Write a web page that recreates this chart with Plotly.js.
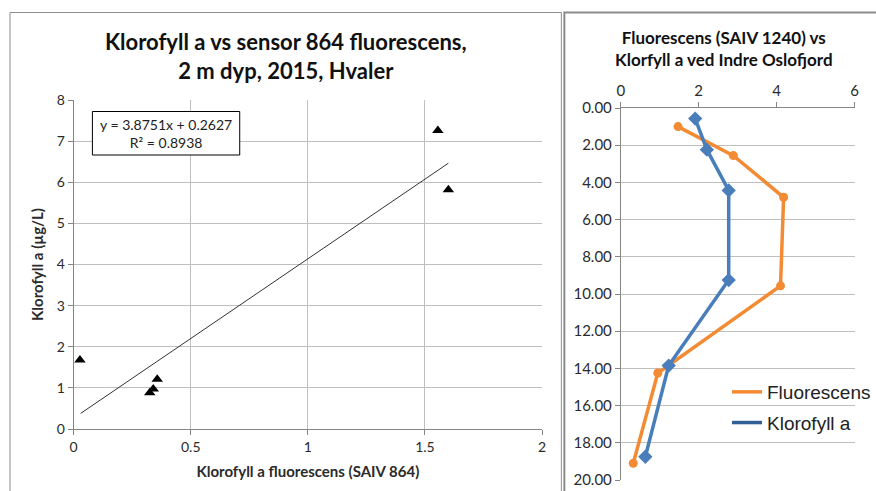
<!DOCTYPE html>
<html>
<head>
<meta charset="utf-8">
<script src="https://cdn.plot.ly/plotly-3.0.1.min.js"></script>
<style>html,body{margin:0;padding:0;background:#fff;}#chart{width:876px;height:491px;}</style>
</head>
<body>
<div id="chart"></div>
<script>
// ---- Data ----
const scatterX = [0.027, 0.325, 0.34, 0.357, 1.555, 1.6];
const scatterY = [1.68, 0.88, 0.97, 1.21, 7.26, 5.82];
const trendSlope = 3.8751;
const trendIntercept = 0.2627;
const trendR2 = 0.8938;
const trendX = [0.03, 1.6];

const fluorX = [1.47, 2.89, 4.18, 4.10, 0.95, 0.32];
const fluorDepth = [1.0, 2.56, 4.8, 9.56, 14.25, 19.1];
const klorX = [1.91, 2.21, 2.77, 2.77, 1.23, 0.63];
const klorDepth = [0.57, 2.24, 4.43, 9.25, 13.85, 18.75];

const leftXTicks = [0, 0.5, 1, 1.5, 2];
const leftYTicks = [0, 1, 2, 3, 4, 5, 6, 7, 8];
const rightXTicks = [0, 2, 4, 6];
const rightYTicks = [0, 2, 4, 6, 8, 10, 12, 14, 16, 18, 20];

// ---- Layout helpers (pixel -> paper) ----
const W = 876, H = 491;
const px = x => x / W;
const py = y => 1 - y / H;

const trendY = trendX.map(x => trendSlope * x + trendIntercept);

const ORANGE = '#F38B34';
const BLUE = '#4A7EBB';
const GRID = '#BFBFBF';
const AXIS = '#868686';
const TXT = '#2b2b2b';
const FONT = 'Lato, "Open Sans", sans-serif';

const traces = [
  {x: trendX, y: trendY, mode: 'lines', line: {color: '#333', width: 1}, xaxis: 'x', yaxis: 'y', showlegend: false, hoverinfo: 'skip'},
  {x: scatterX, y: scatterY, mode: 'markers', marker: {symbol: 'triangle-up', size: 10, color: '#000'}, xaxis: 'x', yaxis: 'y', showlegend: false},
  {x: fluorX, y: fluorDepth, mode: 'lines+markers', line: {color: ORANGE, width: 3.5}, marker: {symbol: 'circle', size: 9, color: ORANGE}, xaxis: 'x2', yaxis: 'y2', showlegend: false, name: 'Fluorescens'},
  {x: klorX, y: klorDepth, mode: 'lines+markers', line: {color: BLUE, width: 3.5}, marker: {symbol: 'diamond', size: 11, color: BLUE}, xaxis: 'x2', yaxis: 'y2', showlegend: false, name: 'Klorofyll a'},
  // legend entries (lines only, like the reference legend)
  {x: [null], y: [null], mode: 'lines', line: {color: ORANGE, width: 3.5}, xaxis: 'x2', yaxis: 'y2', name: 'Fluorescens', legendgroup: 'a'},
  {x: [null], y: [null], mode: 'lines', line: {color: '#2F5F95', width: 3.5}, xaxis: 'x2', yaxis: 'y2', name: 'Klorofyll a', legendgroup: 'b'}
];

const layout = {
  width: W, height: H,
  margin: {l: 0, r: 0, t: 0, b: 0},
  paper_bgcolor: '#fff', plot_bgcolor: 'rgba(0,0,0,0)',
  font: {family: FONT, size: 14, color: TXT},
  showlegend: true,
  legend: {x: px(728), y: py(373), xanchor: 'left', yanchor: 'top', bgcolor: 'rgba(0,0,0,0)',
           font: {family: '"Liberation Sans", Arial, sans-serif', size: 19, color: '#222'},
           traceorder: 'grouped', tracegroupgap: 3},
  xaxis: {domain: [px(73.7), px(542.7)], range: [0, 2], tickvals: leftXTicks, ticktext: leftXTicks.map(String),
          showgrid: true, gridcolor: GRID, gridwidth: 1, zeroline: false, showline: true, linecolor: AXIS, mirror: false,
          ticks: 'outside', ticklen: 5, tickcolor: AXIS, tickfont: {size: 14, color: TXT}, anchor: 'y',
          title: {text: '<b>Klorofyll a fluorescens (SAIV 864)</b>', font: {size: 15, color: TXT}, standoff: 12}},
  yaxis: {domain: [py(429), py(100)], range: [0, 8], tickvals: leftYTicks,
          showgrid: true, gridcolor: GRID, gridwidth: 1, zeroline: false, showline: true, linecolor: AXIS,
          ticks: 'outside', ticklen: 5, tickcolor: AXIS, tickfont: {size: 14, color: TXT}, anchor: 'x',
          title: {text: '<b>Klorofyll a (µg/L)</b>', font: {size: 15, color: TXT}, standoff: 9}},
  xaxis2: {domain: [px(621.5), px(855.5)], range: [0, 6], tickvals: rightXTicks, side: 'top',
           showgrid: false, zeroline: false, showline: true, linecolor: AXIS,
           ticks: 'outside', ticklen: 5, tickcolor: AXIS, tickfont: {size: 15, color: TXT}, anchor: 'y2'},
  yaxis2: {domain: [py(480), py(108)], range: [20, 0], tickvals: rightYTicks, tickformat: '.2f',
           showgrid: true, gridcolor: GRID, gridwidth: 1, zeroline: false, showline: true, linecolor: AXIS,
           ticks: 'outside', ticklen: 5, tickcolor: AXIS, tickfont: {size: 15, color: TXT}, anchor: 'x2'},
  shapes: [
    // left panel border
    {type: 'rect', xref: 'paper', yref: 'paper', x0: px(10), x1: px(562), y0: py(500), y1: py(12.5), line: {color: '#8C8C8C', width: 1}},
    // right panel border
    {type: 'rect', xref: 'paper', yref: 'paper', x0: px(565), x1: px(880), y0: py(500), y1: py(12.5), line: {color: '#8C8C8C', width: 2}},
    // equation box
    {type: 'rect', xref: 'paper', yref: 'paper', x0: px(92.5), x1: px(240), y0: py(155), y1: py(111.5), fillcolor: '#fff', line: {color: '#000', width: 1}, layer: 'above'}
  ],
  annotations: [
    {text: '<b>Klorofyll a vs sensor 864 fluorescens,</b><br><b>2 m dyp, 2015, Hvaler</b>', xref: 'paper', yref: 'paper',
     x: px(286), y: py(56), xanchor: 'center', yanchor: 'middle', showarrow: false, font: {size: 22, color: '#111'}},
    {text: '<b>Fluorescens (SAIV 1240) vs</b><br><b>Klorfyll a ved Indre Oslofjord</b>', xref: 'paper', yref: 'paper',
     x: px(725), y: py(48), xanchor: 'center', yanchor: 'middle', showarrow: false, font: {size: 17, color: '#111'}},
    {text: 'y = ' + trendSlope.toFixed(4) + 'x + ' + trendIntercept.toFixed(4) + '<br>R² = ' + trendR2.toFixed(4), xref: 'paper', yref: 'paper',
     x: px(166), y: py(133.5), xanchor: 'center', yanchor: 'middle', showarrow: false, font: {size: 14, color: '#222'}}
  ]
};

Plotly.newPlot('chart', traces, layout, {displayModeBar: false, staticPlot: true});
</script>
</body>
</html>
